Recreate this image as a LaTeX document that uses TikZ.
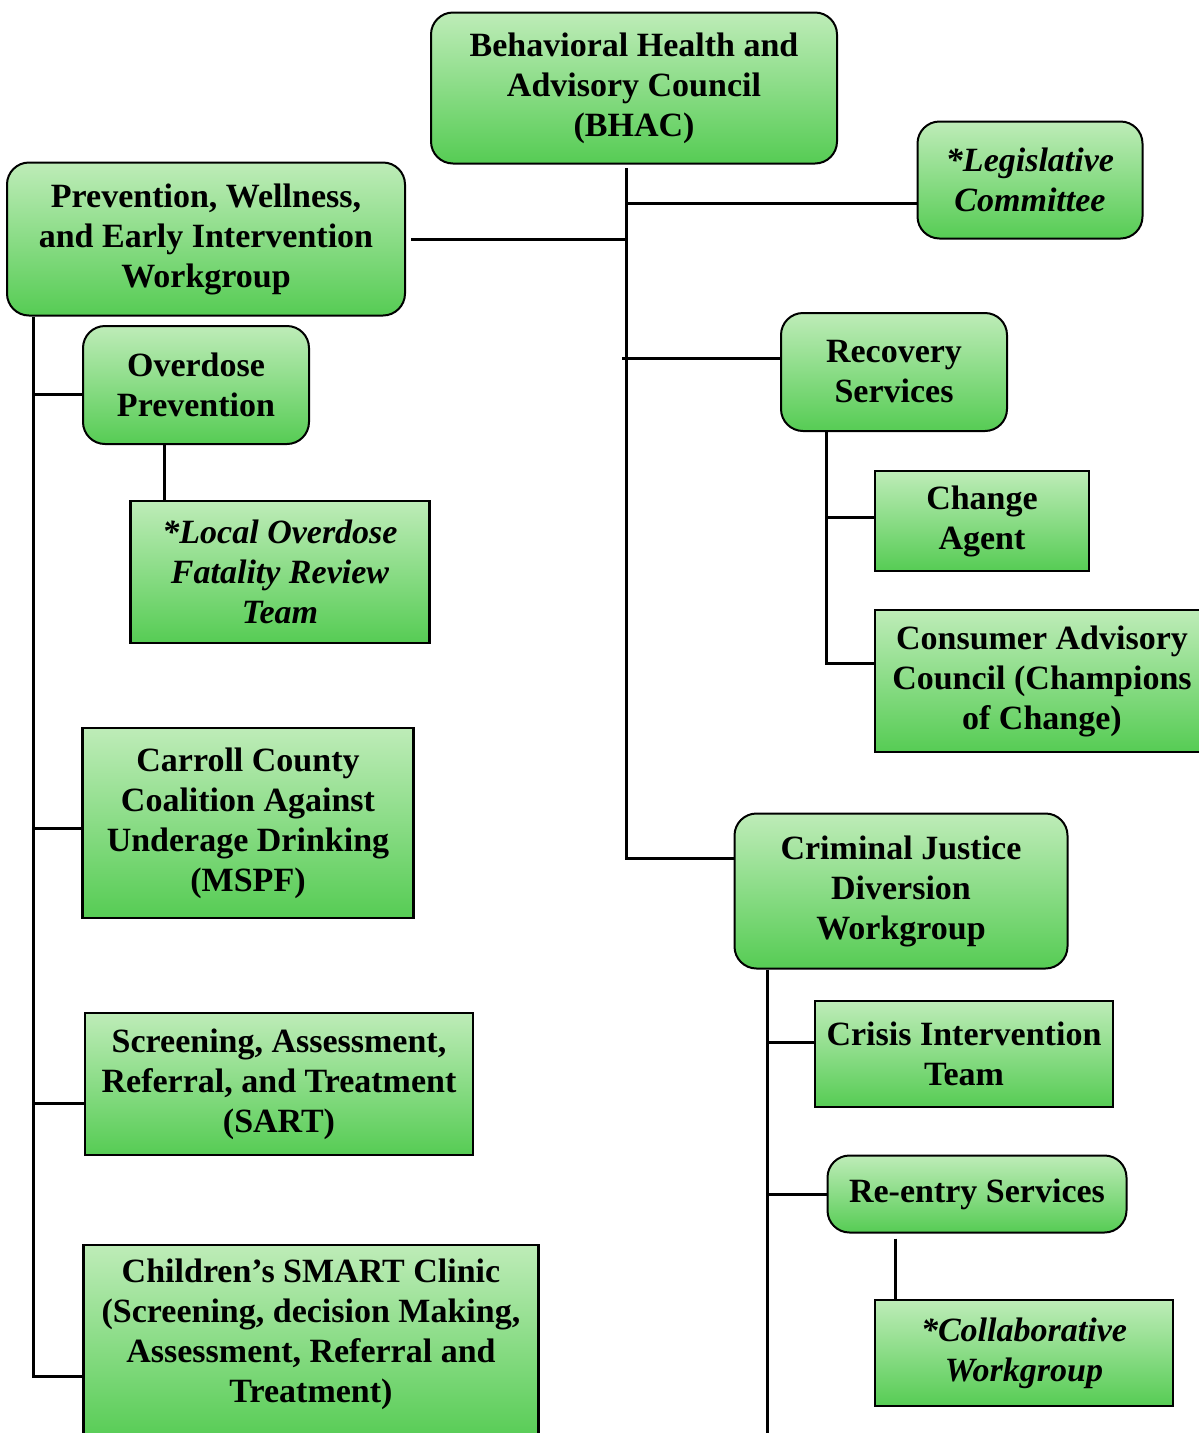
\documentclass[tikz,border=0pt]{standalone}
\usepackage{fontspec}
\setmainfont{Liberation Serif}
\usetikzlibrary{positioning}
\definecolor{boxtop}{RGB}{190,236,184}
\definecolor{boxbot}{RGB}{86,204,84}

\begin{document}
\begin{tikzpicture}[x=1pt,y=-1pt,
  box/.style={draw=black,line width=2pt,top color=boxtop,bottom color=boxbot,
    align=center,inner sep=0pt,font=\fontsize{34}{40}\selectfont\bfseries},
  rbox/.style={box,rounded corners=22pt},
  sbox/.style={box,line width=2.6pt},
  link/.style={line width=3pt}]
\clip (0,0) rectangle (1199,1433);
% council and its workgroups
\node[rbox,minimum width=406pt,minimum height=151pt] (bhac)   at (634,88)  {Behavioral Health and\\Advisory Council\\(BHAC)};
\node[rbox,minimum width=225pt,minimum height=117pt] (legis)  at (1030,180) {\itshape *Legislative\\\itshape Committee};
\node[rbox,minimum width=398pt,minimum height=153pt] (pwei)   at (206,239) {Prevention, Wellness,\\and Early Intervention\\Workgroup};
\node[rbox,minimum width=226pt,minimum height=118pt] (recov)  at (894,372) {Recovery\\Services};
\node[rbox,minimum width=333pt,minimum height=155pt] (cjd)    at (901,891) {Criminal Justice\\Diversion\\Workgroup};
% prevention branch
\node[rbox,minimum width=226pt,minimum height=118pt] (odprev) at (196,385) {Overdose\\Prevention};
\node[sbox,minimum width=299pt,minimum height=142pt] (lofrt)  at (280,572) {\itshape *Local Overdose\\\itshape Fatality Review\\\itshape Team};
\node[sbox,minimum width=331pt,minimum height=190pt] (ccau)   at (248,823) {Carroll County\\Coalition Against\\Underage Drinking\\(MSPF)};
\node[sbox,minimum width=388pt,minimum height=142pt] (sart)   at (279,1084) {Screening, Assessment,\\Referral, and Treatment\\(SART)};
\node[sbox,minimum width=455pt,minimum height=196pt] (smart)  at (311,1343) {Children’s SMART Clinic\\(Screening, decision Making,\\Assessment, Referral and\\Treatment)\rule[-24pt]{0pt}{1pt}};
% recovery branch
\node[sbox,minimum width=214pt,minimum height=100pt] (change) at (982,521) {Change\\Agent};
\node[sbox,minimum width=334pt,minimum height=142pt] (cac)    at (1042,681) {Consumer Advisory\\Council (Champions\\of Change)};
% criminal justice branch
\node[sbox,minimum width=298pt,minimum height=106pt] (cit)     at (964,1054) {Crisis Intervention\\Team};
\node[rbox,minimum width=299pt,minimum height=77pt]  (reentry) at (977,1194) {Re-entry Services};
\node[sbox,minimum width=298pt,minimum height=106pt] (collab)  at (1024,1353) {\itshape *Collaborative\\\itshape Workgroup};

% connectors
\coordinate (bhacroot) at (626,168);
\coordinate (bhacfoot) at (626,858);
\draw[link] (bhacroot) -- (bhacfoot) -- (bhacfoot -| cjd.west);
\draw[link] (bhacroot |- 0,203) -- (legis.west |- 0,203);
\draw[link] ([xshift=5pt]pwei.east) -- (pwei.east -| bhacroot);
\draw[link] ([xshift=-4pt]bhacroot |- 0,358) -- (recov.west |- 0,358);

\coordinate (pweifoot) at (33,1376);
\draw[link] (pwei.south -| pweifoot) -- (pweifoot) -- (pweifoot -| smart.west);
\draw[link] (pweifoot |- 0,394) -- (odprev.west |- 0,394);
\draw[link] (pweifoot |- 0,828) -- (ccau.west |- 0,828);
\draw[link] (pweifoot |- 0,1103) -- (sart.west |- 0,1103);
\draw[link] (odprev.south -| 164,0) -- (lofrt.north -| 164,0);

\coordinate (recfoot) at (826,663);
\draw[link] (recov.south -| recfoot) -- (recfoot) -- (recfoot -| cac.west);
\draw[link] (recfoot |- 0,517) -- (change.west |- 0,517);

\coordinate (cjdfoot) at (767,1440);
\draw[link] (cjd.south -| cjdfoot) -- (cjdfoot);
\draw[link] (cjdfoot |- 0,1042) -- (cit.west |- 0,1042);
\draw[link] (cjdfoot |- 0,1194) -- (reentry.west);
\draw[link] ([yshift=-5pt]reentry.south -| 895,0) -- (collab.north -| 895,0);
\end{tikzpicture}
\end{document}
